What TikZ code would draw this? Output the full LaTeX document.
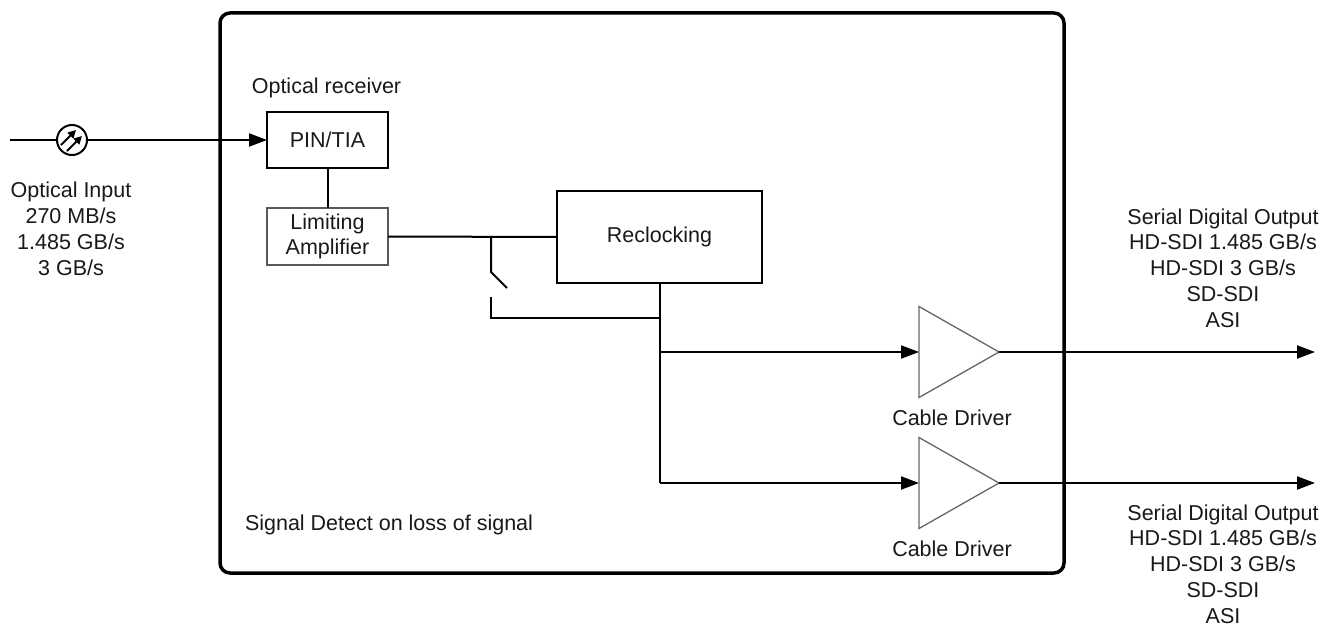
\documentclass[tikz,border=0pt]{standalone}
\usepackage{fontspec}
\setmainfont{Liberation Sans}
\usetikzlibrary{arrows.meta,shapes.geometric}
\begin{document}
\begin{tikzpicture}[x=1pt,y=-1pt,
  every node/.style={font=\fontsize{21.5}{25.8}\selectfont, text=black!90, inner sep=0pt, outer sep=0pt},
  frame/.style={draw, line width=3.5pt, rounded corners=10pt, minimum width=844pt, minimum height=560pt},
  blk/.style={draw, line width=1.8pt, align=center},
  gblk/.style={draw=black!65, line width=1.5pt, align=center},
  amp/.style={draw=black!60, line width=1.3pt, isosceles triangle, isosceles triangle stretches, shape border rotate=0, minimum width=91pt, minimum height=80pt, anchor=apex},
  wire/.style={line width=2pt},
  sig/.style={wire, -{Triangle[length=18pt,width=13pt]}},
  lbl/.style={align=center}
]
\useasboundingbox[fill=white] (0,0) rectangle (1333,626);

% system frame
\node[frame] (sys) at (642,293) {};

% optical input symbol
\coordinate (in) at (10,140);
\node[draw, circle, line width=2pt, minimum size=30pt] (opt) at (72,140) {};
\draw[line width=1.8pt, -{Triangle[length=8pt,width=8pt]}] ([shift={(-11,5)}]opt.center) -- ([shift={(4,-10)}]opt.center);
\draw[line width=1.8pt, -{Triangle[length=8pt,width=8pt]}] ([shift={(-5,11)}]opt.center) -- ([shift={(10,-4)}]opt.center);

\node[lbl] (inlbl) at (71,229) {Optical Input\\270 MB/s\\1.485 GB/s\\3 GB/s};

% blocks
\node[anchor=base] (orx) at (326.5,93) {Optical receiver};
\node[blk, minimum width=121pt, minimum height=56pt] (pin) at (327.5,140) {PIN/TIA};
\node[gblk, minimum width=121pt, minimum height=57pt] (la) at (327.5,236.5) {Limiting\\Amplifier};
\node[blk, minimum width=205pt, minimum height=92pt] (rec) at (659.5,237) {Reclocking};

% cable drivers
\node[amp] (cd1) at (999,352) {};
\node[amp] (cd2) at (999,483) {};
\node (cd1l) at (952,418) {Cable Driver};
\node (cd2l) at (952,549) {Cable Driver};

\node[anchor=base west] (sd) at (245,530) {Signal Detect on loss of signal};

% outputs labels
\node[lbl] (o1l) at (1223,268) {Serial Digital Output\\HD-SDI 1.485 GB/s\\HD-SDI 3 GB/s\\SD-SDI\\ASI};
\node[lbl] (o2l) at (1223,564) {Serial Digital Output\\HD-SDI 1.485 GB/s\\HD-SDI 3 GB/s\\SD-SDI\\ASI};

% coordinates
\coordinate (sw1) at (491,237);
\coordinate (sw2) at (491,272);
\coordinate (sw3) at (507,288);
\coordinate (sw4) at (491,297);
\coordinate (tap) at (660,318);
\coordinate (br1) at (660,352);
\coordinate (br2) at (660,483);
\coordinate (out1) at (1315,352);
\coordinate (out2) at (1315,483);

% connectors
\draw[wire] (in) -- (opt.west);
\draw[sig] (opt.east) -- (pin.west);
\draw[wire] (pin.south) -- (la.north);
\draw[wire] (la.east) -- (rec.west);
\draw[wire] (sw1) -- (sw2) -- (sw3);
\draw[wire] (sw4) |- (tap);
\draw[wire] (rec.south -| br1) -- (br2);
\draw[sig] (br1) -- (cd1.lower side);
\draw[sig] (br2) -- (cd2.lower side);
\draw[sig] (cd1.apex) -- (out1);
\draw[sig] (cd2.apex) -- (out2);
\end{tikzpicture}
\end{document}
